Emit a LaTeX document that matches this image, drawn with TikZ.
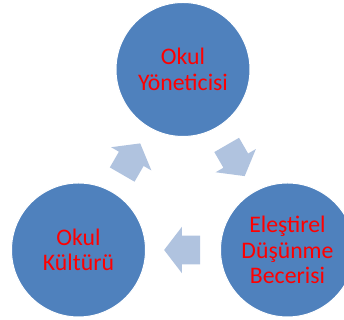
\documentclass[tikz,border=0pt]{standalone}
\usepackage{fontspec}
\setmainfont{Carlito}
\usetikzlibrary{shapes.arrows, calc}
\definecolor{circblue}{HTML}{4F81BD}
\definecolor{flowblue}{HTML}{B0C3DF}
\tikzset{%
  % Specifications for style of nodes:
            circ/.style = {circle, draw=white, line width=0.75pt,
                            fill=circblue, minimum size=100.5pt, inner sep=0pt,
                            align=center, text=red,
                            font=\fontsize{17.8}{19.2}\selectfont},
            flow/.style = {single arrow, draw=none, fill=flowblue,
                            minimum height=27pt, inner xsep=0pt, inner ysep=10.5pt,
                            single arrow head extend=6.75pt,
                            single arrow tip angle=105}
}

\begin{document}
\begin{tikzpicture}[x=0.75pt, y=0.75pt]
                        \useasboundingbox (0,0) rectangle (344,320);
                        \node[circ] (yon) at (183,250.5) {Okul\\Yöneticisi};
                        \node[circ] (dus) at (287.5,70) {Eleştirel\\Düşünme\\Becerisi};
                        \node[circ] (kul) at (78.5,70) {Okul\\Kültürü};
                        \node[flow, rotate=-60] (a1) at ($(yon)!0.478!(dus)$) {};
                        \node[flow, rotate=180] (a2) at ($(dus)!0.478!(kul)$) {};
                        \node[flow, rotate=60] (a3) at ($(kul)!0.478!(yon)$) {};
                    \end{tikzpicture}
\end{document}
